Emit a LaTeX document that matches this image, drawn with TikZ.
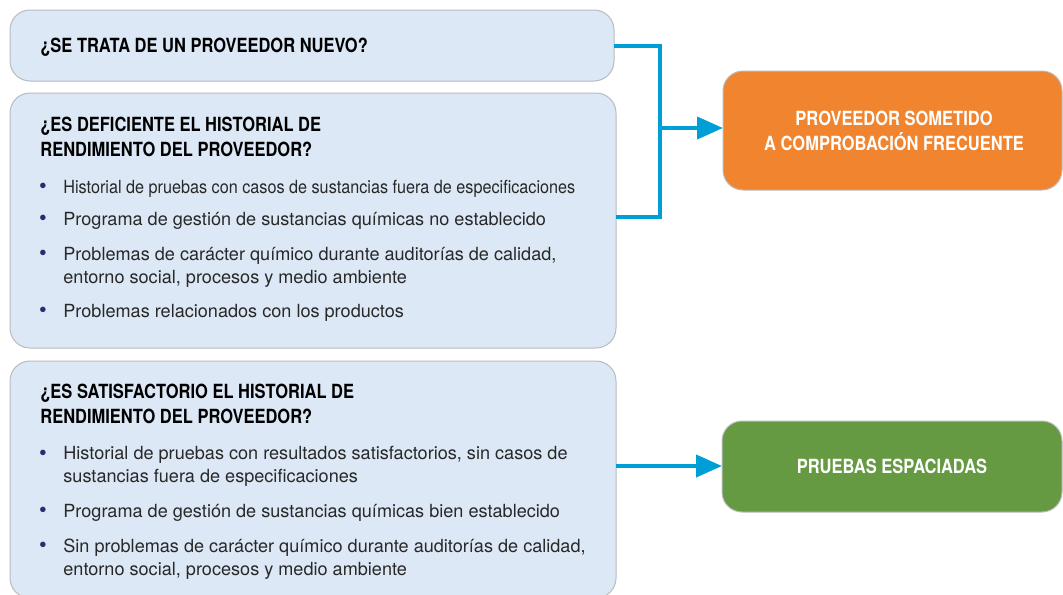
\documentclass[tikz,border=0pt]{standalone}
\usepackage{fontspec}
\setmainfont{TeX Gyre Heros}
\newfontfamily\headfont[FakeStretch=0.845]{TeX Gyre Heros}
\newfontfamily\bodyfont{TeX Gyre Heros}
\newfontfamily\tightfont[FakeStretch=0.895]{TeX Gyre Heros}
\usetikzlibrary{arrows.meta}
\definecolor{boxblue}{RGB}{220,232,245}
\definecolor{boxline}{RGB}{184,188,192}
\definecolor{linkblue}{RGB}{0,158,214}
\definecolor{orangebox}{RGB}{240,132,47}
\definecolor{greenbox}{RGB}{101,154,66}
\definecolor{bodytext}{RGB}{40,40,40}
\definecolor{dotnavy}{RGB}{43,45,110}
\tikzset{
  question/.style = {draw = boxline, fill = boxblue, rounded corners = 10pt, line width = 0.5pt},
  result/.style = {draw = boxline, rounded corners = 10pt, line width = 0.5pt},
  head/.style = {anchor = base west, align = left, inner sep = 0pt, text = black,
    font = \headfont\bfseries\fontsize{9.75}{12.2}\selectfont},
  outcome/.style = {anchor = base, align = center, inner sep = 0pt, text = white,
    font = \headfont\bfseries\fontsize{9.75}{12.5}\selectfont},
  item/.style = {anchor = base west, align = left, inner sep = 0pt, text = bodytext,
    font = \bodyfont\fontsize{9.05}{11.3}\selectfont},
  dot/.style = {anchor = base, inner sep = 0pt, text = dotnavy, font = \bodyfont\fontsize{11}{11}\selectfont},
  link/.style = {draw = linkblue, line width = 2pt},
  linkarrow/.style = {link, -{Triangle[length = 13pt, width = 11pt]}}
}
\begin{document}
\begin{tikzpicture}[x = 0.5pt, y = -0.5pt]
		\useasboundingbox (0, 0) rectangle (1063, 594);
		%%%%%%%%%%%%%
		\begin{scope}
		\clip (0, 0) rectangle (1063, 594);
		\filldraw[question] (10, 10) rectangle (614, 81);
		\filldraw[question] (10, 93) rectangle (616, 348);
		\filldraw[question] (10, 361) rectangle (616, 598);
		\filldraw[result, fill = orangebox] (723, 71) rectangle (1062, 190);
		\filldraw[result, fill = greenbox] (722, 421) rectangle (1062, 512);
		\end{scope}
		%%%%%%%%%%%%%
		\coordinate (nuevo) at (614, 45.5);
		\coordinate (deficiente) at (616, 217);
		\coordinate (satisf) at (616, 466);
		\coordinate (frecuente) at (723, 128);
		\coordinate (espaciadas) at (722, 466);
		\coordinate (junta) at (660, 128);
		%%%%%%%%%%%%%
		% multi-line nodes sit on the baseline of their last line
		\node[head] (qa) at (40, 52) {¿SE TRATA DE UN PROVEEDOR NUEVO?};
		\node[head] (qb) at (40, 156) {¿ES DEFICIENTE EL HISTORIAL DE\\RENDIMIENTO DEL PROVEEDOR?};
		\node[dot] (db1) at (43, 193) {•};
		\node[item, font = \tightfont\fontsize{9.05}{11.3}\selectfont] (b1) at (63, 193) {Historial de pruebas con casos de sustancias fuera de especificaciones};
		\node[dot] (db2) at (43, 225) {•};
		\node[item] (b2) at (63, 225) {Programa de gestión de sustancias químicas no establecido};
		\node[dot] (db3) at (43, 260) {•};
		\node[item] (b3) at (63, 283) {Problemas de carácter químico durante auditorías de calidad,\\entorno social, procesos y medio ambiente};
		\node[dot] (db4) at (43, 317) {•};
		\node[item] (b4) at (63, 317) {Problemas relacionados con los productos};
		%%%%%%%%%%%%%
		\node[head] (qc) at (40, 423) {¿ES SATISFACTORIO EL HISTORIAL DE\\RENDIMIENTO DEL PROVEEDOR?};
		\node[dot] (dc1) at (43, 460) {•};
		\node[item] (c1) at (63, 482) {Historial de pruebas con resultados satisfactorios, sin casos de\\sustancias fuera de especificaciones};
		\node[dot] (dc2) at (43, 517) {•};
		\node[item] (c2) at (63, 517) {Programa de gestión de sustancias químicas bien establecido};
		\node[dot] (dc3) at (43, 552) {•};
		\node[item] (c3) at (63, 575) {Sin problemas de carácter químico durante auditorías de calidad,\\entorno social, procesos y medio ambiente};
		%%%%%%%%%%%%%
		\node[outcome] (ra) at (894, 150) {PROVEEDOR SOMETIDO\\A COMPROBACIÓN FRECUENTE};
		\node[outcome] (rb) at (892, 473) {PRUEBAS ESPACIADAS};
		%%%%%%%%%%%%%
		\draw[link] (nuevo) -| (junta) |- (deficiente);
		\draw[linkarrow] (junta) -- (frecuente);
		\draw[linkarrow] (satisf) -- (espaciadas);
		%%%%%%%%%%%%%%
	\end{tikzpicture}
\end{document}
